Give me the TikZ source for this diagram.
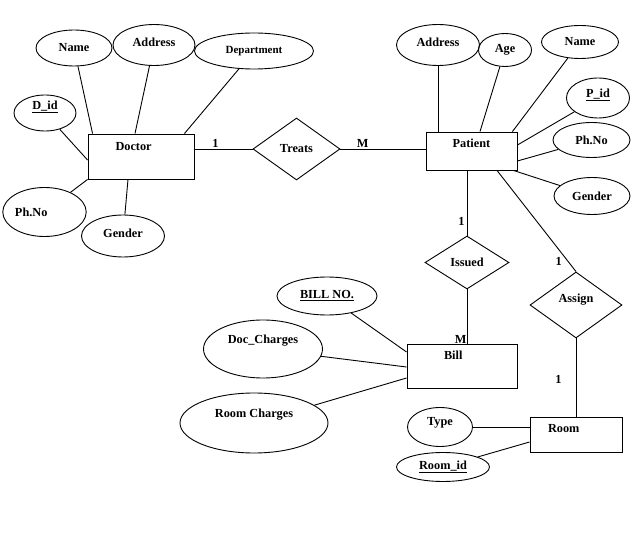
\documentclass[tikz,border=0pt]{standalone}
\usepackage{fontspec}
\setmainfont{Liberation Serif}
\usetikzlibrary{shapes.geometric}

\begin{document}
\begin{tikzpicture}[x=1pt,y=-1pt,line width=0.9pt,
	every node/.style={font=\bfseries\fontsize{12.3}{14}\selectfont},
	entity/.style={draw,rectangle,inner sep=0pt},
	attr/.style={draw,ellipse,inner sep=0pt},
	rel/.style={draw,diamond,inner sep=0pt},
	card/.style={inner sep=0pt}]
		
		\useasboundingbox (0,0) rectangle (638,537);
		
		\node[entity,minimum width=106,minimum height=45,text width=51pt,align=left,text depth=21pt] (doctor) at (141,156.5) {Doctor};
		\node[entity,minimum width=91,minimum height=38,text depth=16pt] (patient) at (471.5,151) {Patient};
		\node[entity,minimum width=110,minimum height=44,text width=36pt,align=left,text depth=22pt] (bill) at (462,366) {Bill};
		\node[entity,minimum width=92,minimum height=35,text width=56pt,align=left,text depth=13pt] (room) at (576,434.5) {Room};
		
		\node[rel,minimum width=87,minimum height=62] (treats) at (296.5,149) {Treats};
		\node[rel,minimum width=84,minimum height=53] (issued) at (467,262.5) {Issued};
		\node[rel,minimum width=92,minimum height=66,text depth=14pt] (assign) at (576,305) {Assign};
		
		\node[attr,minimum width=76,minimum height=36] (dname) at (74,48) {Name};
		\node[attr,minimum width=82,minimum height=41,text depth=6pt] (daddress) at (154,45) {Address};
		\node[attr,minimum width=119,minimum height=36,font=\bfseries\fontsize{11}{13}\selectfont] (ddept) at (254,51) {Department};
		\node[attr,minimum width=62,minimum height=36,text depth=16pt] (did) at (45,113) {\underline{D\_id}};
		\node[attr,minimum width=75,minimum height=49,text width=59pt,align=left] (dphone) at (44.5,212) {Ph.No};
		\node[attr,minimum width=83,minimum height=42,text depth=6pt] (dgender) at (123,236) {Gender};
		
		\node[attr,minimum width=83,minimum height=41,text depth=6pt] (paddress) at (438,45) {Address};
		\node[attr,minimum width=53,minimum height=33] (page) at (505,50) {Age};
		\node[attr,minimum width=77,minimum height=33] (pname) at (580,42) {Name};
		\node[attr,minimum width=63,minimum height=40,text depth=10pt] (pid) at (598,98) {\underline{P\_id}};
		\node[attr,minimum width=77,minimum height=35] (pphone) at (591.5,140) {Ph.No};
		\node[attr,minimum width=76,minimum height=37] (pgender) at (592,196) {Gender};
		
		\node[attr,minimum width=100,minimum height=38] (billno) at (327,296) {\underline{BILL NO.}};
		\node[attr,minimum width=119,minimum height=58,text depth=20pt] (doccharges) at (263,349) {Doc\_Charges};
		\node[attr,minimum width=148,minimum height=60,text depth=20pt] (roomcharges) at (254,423) {Room Charges};
		
		\node[attr,minimum width=65,minimum height=39,text depth=12pt] (rtype) at (440,427) {Type};
		\node[attr,minimum width=93,minimum height=29] (roomid) at (443,467) {\underline{Room\_id}};
		
		\draw (dname) -- ([xshift=5pt]doctor.north west);
		\draw (daddress) -- ([xshift=-6pt]doctor.north);
		\draw (ddept) -- ([xshift=-10pt]doctor.north east);
		\draw (did) -- ([yshift=-3.5pt]doctor.west);
		\draw (dphone) -- (doctor.south west);
		\draw (dgender) -- ([xshift=-13pt]doctor.south);
		
		\draw (paddress) -- ([xshift=-33.5pt]patient.north);
		\draw (page) -- ([xshift=8.5pt]patient.north);
		\draw (pname) -- ([xshift=-5pt]patient.north east);
		\draw (pid) -- ([yshift=6pt]patient.east);
		\draw (pphone) -- ([yshift=-10pt]patient.east);
		\draw (pgender) -- ([xshift=-4pt]patient.south east);
		
		\draw (billno) -- ([yshift=14pt]bill.west);
		\draw (doccharges) -- ([yshift=-1pt]bill.west);
		\draw (roomcharges) -- ([yshift=-12pt]bill.west);
		
		\draw (rtype) -- ([yshift=7.5pt]room.west);
		\draw (roomid) -- ([yshift=-7.5pt]room.west);
		
		\draw ([yshift=7.5pt]doctor.east) -- node[card,pos=.36,above=1pt] (cdoctor) {1} (treats.west);
		\draw (treats.east) -- node[card,pos=.26,above=1pt] (cpatient) {M} ([yshift=2pt]patient.west);
		\draw ([xshift=-4.5pt]patient.south) -- node[card,pos=.79,left=2pt] (cissued) {1} (issued.north);
		\draw ([xshift=25.5pt]patient.south) -- node[card,pos=.9,left=6pt] (cassign) {1} (assign.north);
		\draw (issued.south) -- node[card,pos=.93,left=0pt] (cbill) {M} ([xshift=5pt]bill.north);
		\draw (assign.south) -- node[card,pos=.53,left=14pt] (croom) {1} (room.north);
		
	\end{tikzpicture}
\end{document}
